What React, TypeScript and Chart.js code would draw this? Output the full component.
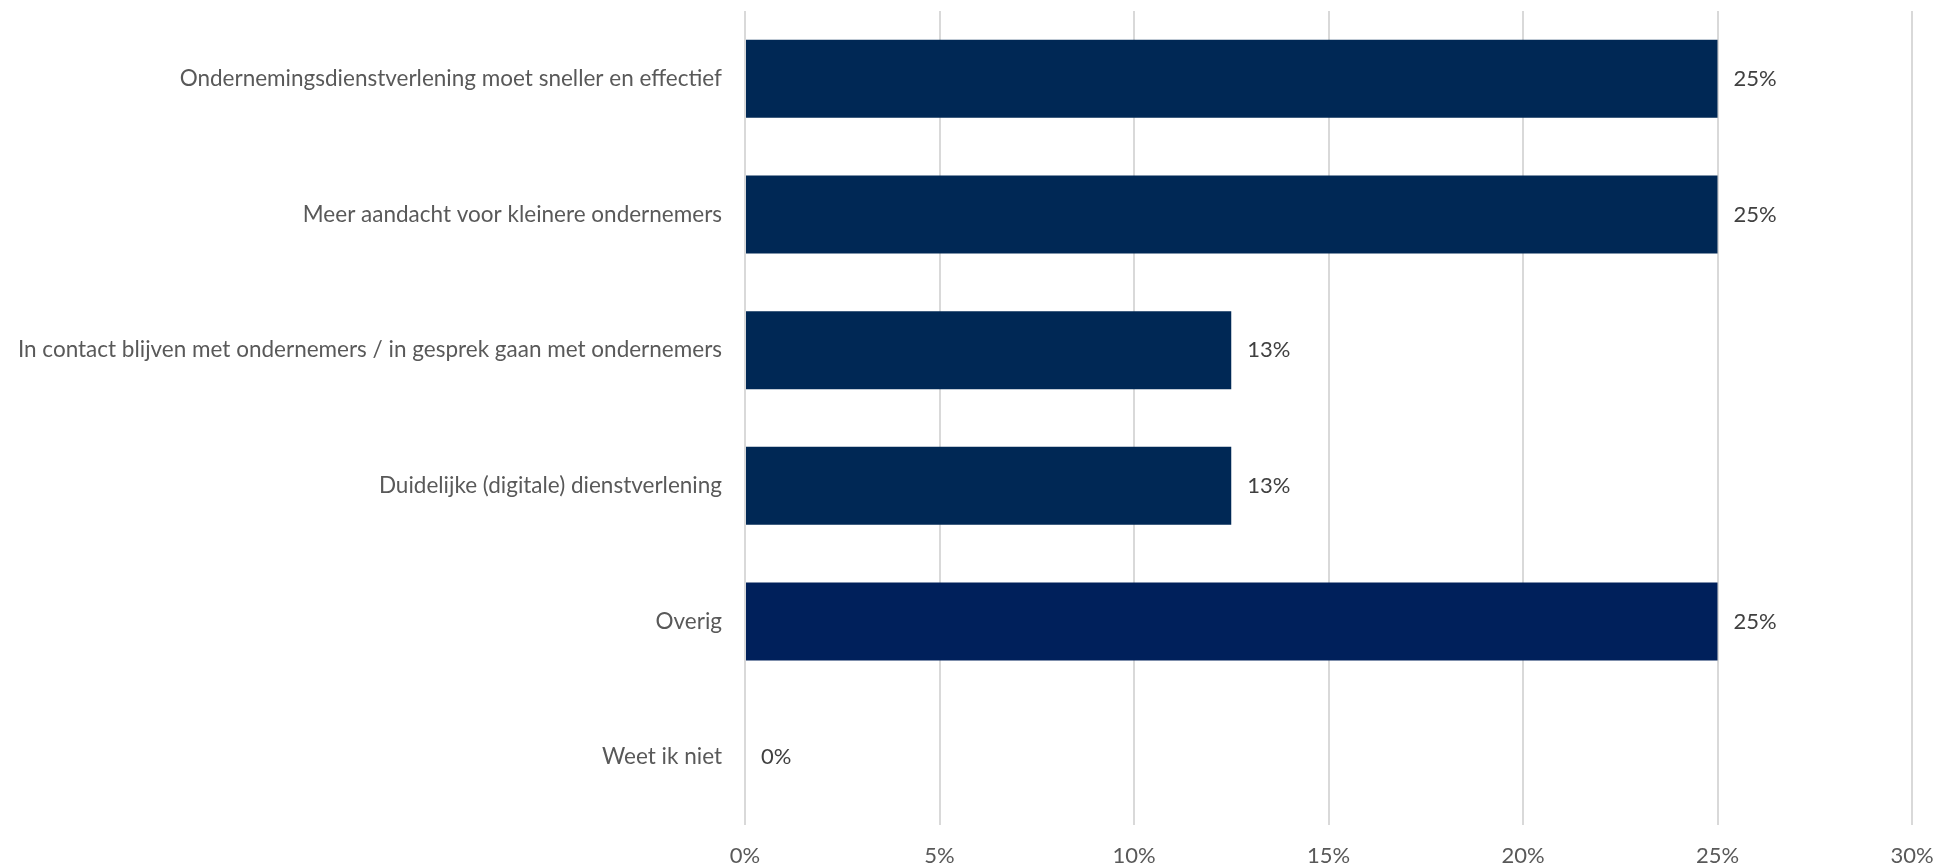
import React, { useEffect, useRef } from "react";
import { Chart, registerables } from "chart.js";

Chart.register(...registerables);

const categories = [
  "Ondernemingsdienstverlening moet sneller en effectief",
  "Meer aandacht voor kleinere ondernemers",
  "In contact blijven met ondernemers / in gesprek gaan met ondernemers",
  "Duidelijke (digitale) dienstverlening",
  "Overig",
  "Weet ik niet",
];
const values = [25, 25, 12.5, 12.5, 25, 0];
const barColors = ["#002855", "#002855", "#002855", "#002855", "#00205B", "#002855"];
const xTicks = [0, 5, 10, 15, 20, 25, 30];

const FONT = "Lato, 'Open Sans', sans-serif";

const dataLabelPlugin = {
  id: "dataLabels",
  afterDatasetsDraw(chart: any) {
    const ctx = chart.ctx;
    const meta = chart.getDatasetMeta(0);
    ctx.save();
    ctx.font = `22px ${FONT}`;
    ctx.fillStyle = "#404040";
    ctx.textAlign = "left";
    ctx.textBaseline = "middle";
    meta.data.forEach((bar: any, i: number) => {
      const v = values[i];
      ctx.fillText(`${Math.round(v)}%`, bar.x + 16, bar.y);
    });
    ctx.restore();
  },
};

export default function App() {
  const ref = useRef<HTMLCanvasElement | null>(null);
  useEffect(() => {
    if (!ref.current) return;
    const chart = new Chart(ref.current, {
      type: "bar",
      data: {
        labels: categories,
        datasets: [
          {
            data: values,
            backgroundColor: barColors,
            categoryPercentage: 1,
            barPercentage: 0.575,
          },
        ],
      },
      options: {
        indexAxis: "y",
        animation: false,
        responsive: false,
        maintainAspectRatio: false,
        layout: { padding: { top: 11, right: 25, bottom: 0, left: 0 } },
        plugins: { legend: { display: false }, tooltip: { enabled: false } },
        scales: {
          x: {
            min: 0,
            max: 30,
            afterBuildTicks(axis: any) {
              axis.ticks = xTicks.map((v) => ({ value: v }));
            },
            afterFit(axis: any) {
              axis.height = 42;
              axis.paddingLeft = 0;
              axis.paddingRight = 0;
            },
            grid: { color: "#d9d9d9", lineWidth: 2, drawTicks: false },
            border: { display: false },
            ticks: {
              padding: 18,
              color: "#595959",
              font: { family: FONT, size: 22 },
              callback: (v: any) => `${v}%`,
            },
          },
          y: {
            afterFit(axis: any) {
              axis.width = 745;
              axis.paddingTop = 0;
              axis.paddingBottom = 0;
            },
            grid: { display: false, drawTicks: false },
            border: { display: false },
            ticks: {
              padding: 23,
              color: "#595959",
              font: { family: FONT, size: 22.5 },
            },
          },
        },
      },
      plugins: [dataLabelPlugin],
    });
    return () => chart.destroy();
  }, []);
  return (
    <div style={{ position: "fixed", left: 0, top: 0, width: 1937, height: 867, background: "#fff" }}>
      <canvas ref={ref} width={1937} height={867} />
    </div>
  );
}
